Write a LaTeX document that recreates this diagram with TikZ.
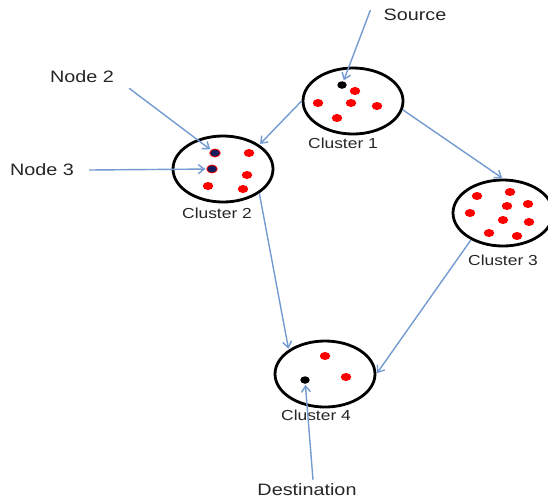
\documentclass[tikz,border=0pt]{standalone}
\usepackage{fontspec}
\setmainfont{Liberation Sans}
\usepackage{graphicx}
\usetikzlibrary{shapes.geometric,positioning,arrows.meta}
\definecolor{linkblue}{RGB}{115,155,210}
\definecolor{dotnavy}{RGB}{20,30,90}
\tikzset{
	>={Straight Barb[length=6pt,width=9pt]},
	cluster/.style={
		ellipse,
		draw=black, line width=2.8pt,
		fill=white,
		minimum width=100pt,
		minimum height=66pt,
		inner sep=0pt},
	member/.style={ellipse, fill=red, minimum width=10.5pt, minimum height=8pt, inner sep=0pt},
	endpoint/.style={ellipse, fill=black, minimum width=9.5pt, minimum height=7.5pt, inner sep=0pt},
	marked/.style={ellipse, fill=dotnavy, draw=red, line width=0.8pt,
		minimum width=10.5pt, minimum height=8pt, inner sep=0pt},
	clabel/.style={font=\fontsize{14.5}{16}\selectfont, text=black!85, inner sep=0pt},
	tag/.style={font=\fontsize{16.5}{18}\selectfont, text=black!85, inner sep=0pt},
	link/.style={draw=linkblue, line width=1.4pt, ->, shorten >=1pt},
}
\newcommand*\wide[1]{\scalebox{1.2}[1]{#1}}

\begin{document}
\begin{tikzpicture}[x=1pt,y=-1pt]
\useasboundingbox (0,0) rectangle (548,499);

% clusters
\node[cluster] (c1) at (353,101) {};
\node[cluster] (c2) at (223,169) {};
\node[cluster] (c3) at (503,213) {};
\node[cluster] (c4) at (325,374) {};

\node[clabel] (l1) at (343,143) {\wide{Cluster 1}};
\node[clabel] (l2) at (217,213) {\wide{Cluster 2}};
\node[clabel] (l3) at (503,260) {\wide{Cluster 3}};
\node[clabel] (l4) at (316,415) {\wide{Cluster 4}};

% members
\foreach \p [count=\i] in {(355,91),(318,103),(351,103),(377,106),(337,118)}
	\node[member] (m1-\i) at \p {};
\foreach \p [count=\i] in {(249,153),(247,175),(208,186),(243,189)}
	\node[member] (m2-\i) at \p {};
\foreach \p [count=\i] in {(477,196),(510,192),(507,206),(528,204),(470,213),
	(503,220),(529,222),(489,233),(517,236)}
	\node[member] (m3-\i) at \p {};
\foreach \p [count=\i] in {(325,356),(346,377)}
	\node[member] (m4-\i) at \p {};

\node[endpoint] (srcdot) at (342,85) {};
\node[endpoint] (dstdot) at (305,380) {};
\node[marked] (n2dot) at (215,153) {};
\node[marked] (n3dot) at (212,169) {};

% tags
\node[tag] (src) at (415,15) {\wide{Source}};
\node[tag] (n2) at (82,77) {\wide{Node 2}};
\node[tag] (n3) at (42,170) {\wide{Node 3}};
\node[tag] (dst) at (307,490) {\wide{Destination}};

% links
\draw[link] ([xshift=-13pt,yshift=5pt]src.west) -- (srcdot);
\draw[link] ([xshift=15pt,yshift=-5pt]n2.south east) -- (n2dot);
\draw[link] ([xshift=15pt]n3.east) -- (n3dot);
\draw[link] ([xshift=6pt,yshift=4pt]dst.north) -- (dstdot);
\draw[link] (c1.west) -- (c2.north east);
\draw[link] (c1.-10) -- (c3.north);
\draw[link] (c2.south east) -- (c4.north west);
\draw[link] (c3.220) -- (c4.east);
\end{tikzpicture}
\end{document}
